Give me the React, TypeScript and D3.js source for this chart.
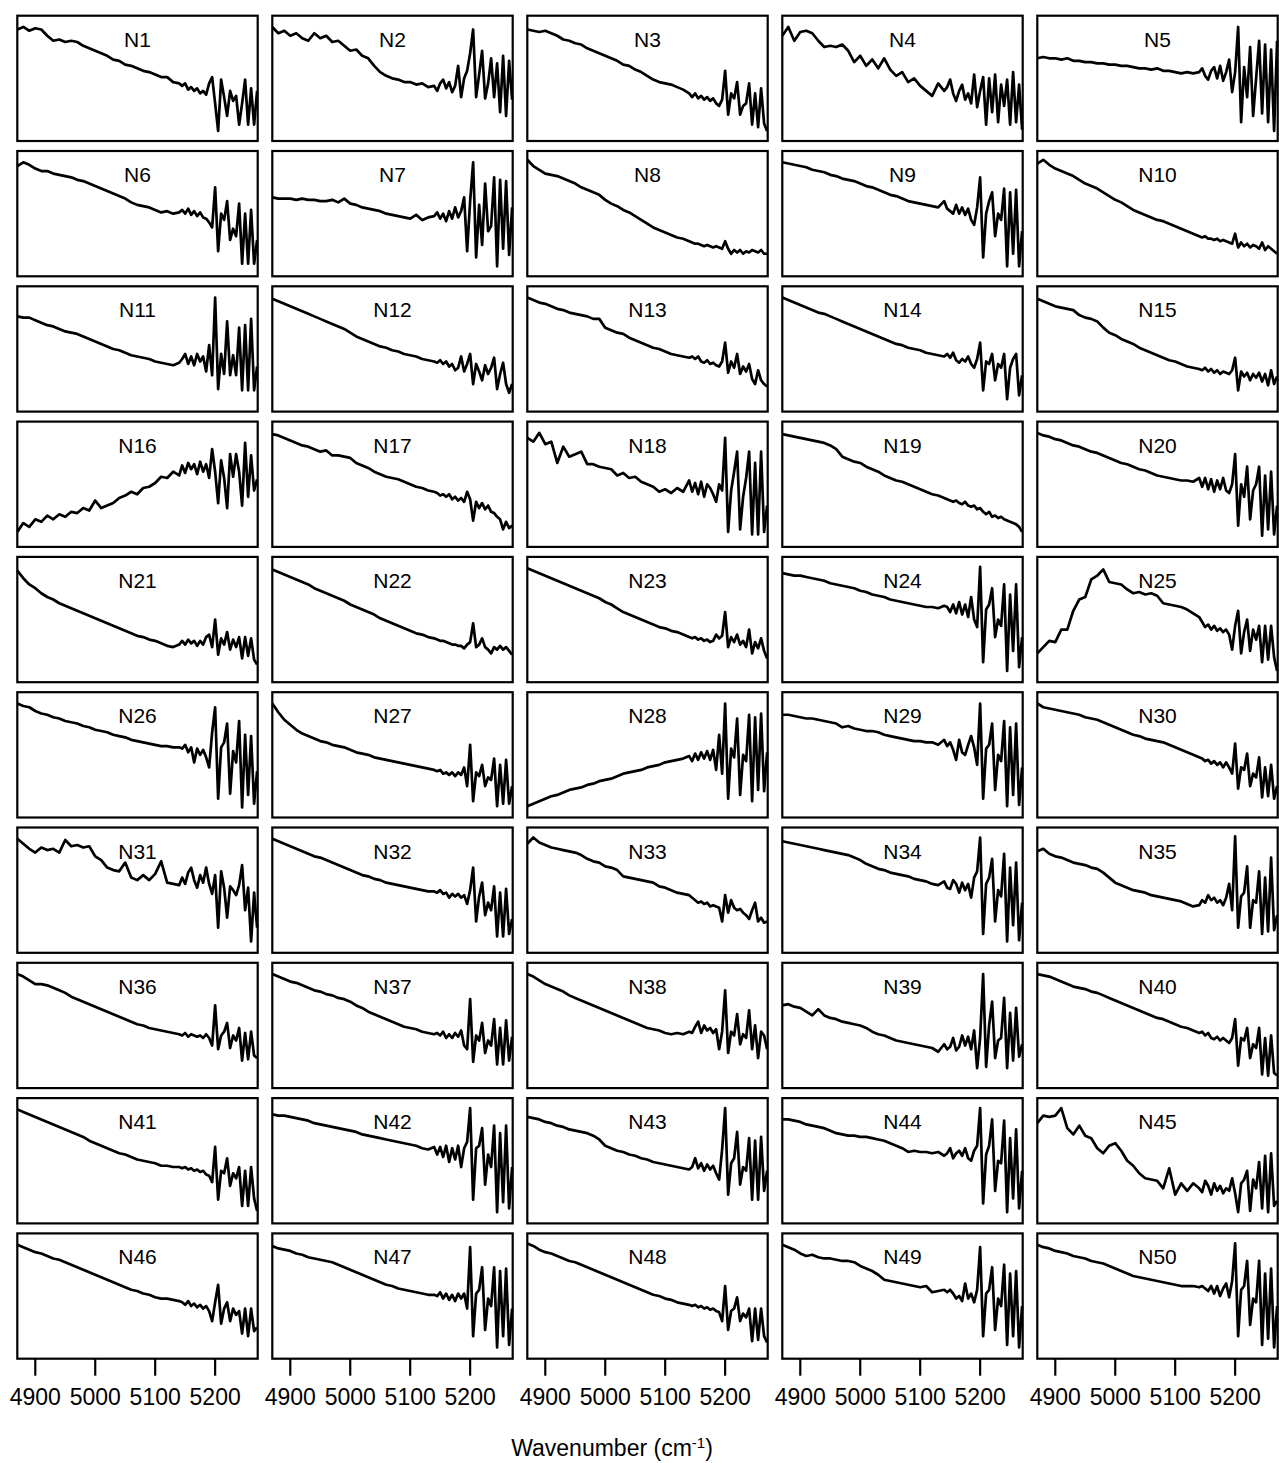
import React from "react";
import * as d3 from "d3";

// wavenumber grid (cm-1), shared by every spectrum
const WAVENUMBER = [4870, 4880, 4890, 4900, 4910, 4920, 4930, 4940, 4950, 4960, 4970, 4980, 4990, 5000, 5010, 5020, 5030, 5040, 5050, 5060, 5070, 5080, 5090, 5100, 5110, 5120, 5130, 5140,
  5145, 5150, 5155, 5160, 5165, 5170, 5175, 5180, 5185, 5190, 5195, 5200, 5205, 5210, 5215, 5220, 5225, 5230, 5235, 5240, 5245, 5250, 5255, 5260, 5265, 5270];

const N1 = [89, 91, 88, 90, 89, 84, 80, 81, 79, 80, 79, 76, 74, 72, 70, 68, 65, 64, 61, 60, 58, 56, 55, 53, 51, 51, 47, 46, 44, 46, 41, 43, 40, 42, 38, 40, 37, 46, 51, 30, 8, 49, 35, 20, 40, 32, 36, 13, 30, 49, 13, 42, 13, 40];
const N2 = [91, 86, 88, 84, 86, 82, 80, 86, 82, 84, 79, 80, 76, 72, 73, 68, 66, 60, 55, 52, 50, 49, 47, 47, 45, 46, 43, 44, 40, 46, 49, 42, 47, 39, 44, 60, 35, 50, 56, 70, 89, 35, 53, 72, 34, 46, 66, 35, 62, 23, 68, 20, 64, 33];
const N3 = [89, 88, 87, 88, 86, 84, 81, 80, 78, 77, 74, 72, 70, 68, 66, 64, 61, 60, 57, 55, 52, 49, 47, 46, 45, 43, 41, 38, 35, 38, 34, 36, 33, 35, 32, 34, 30, 28, 33, 56, 21, 38, 34, 47, 21, 28, 30, 46, 13, 38, 11, 42, 14, 8];
const N4 = [84, 91, 80, 87, 88, 86, 80, 75, 76, 75, 77, 72, 63, 68, 60, 65, 58, 66, 57, 52, 55, 47, 50, 44, 40, 36, 46, 40, 43, 49, 38, 32, 40, 45, 33, 38, 30, 53, 27, 40, 51, 13, 50, 23, 53, 15, 45, 28, 49, 13, 55, 15, 45, 9];
const N5 = [66, 67, 66, 66, 65, 66, 64, 64, 63, 63, 62, 62, 61, 61, 60, 60, 59, 58, 58, 57, 58, 56, 56, 55, 54, 55, 54, 55, 58, 52, 49, 56, 59, 50, 60, 48, 55, 65, 39, 55, 91, 15, 59, 35, 75, 20, 50, 80, 22, 77, 15, 73, 8, 80];
const N6 = [88, 91, 89, 86, 84, 84, 82, 81, 80, 79, 77, 76, 74, 72, 70, 68, 66, 64, 62, 59, 57, 56, 55, 53, 51, 52, 50, 51, 53, 50, 54, 49, 52, 48, 51, 47, 46, 43, 39, 71, 20, 50, 45, 60, 29, 38, 32, 58, 10, 50, 10, 53, 10, 29];
const N7 = [63, 62, 62, 62, 61, 62, 61, 61, 60, 60, 61, 59, 62, 58, 57, 55, 54, 53, 52, 50, 49, 48, 47, 46, 49, 45, 47, 48, 51, 46, 50, 44, 52, 46, 55, 47, 52, 63, 20, 60, 91, 15, 57, 25, 74, 36, 40, 79, 8, 77, 22, 76, 17, 55];
const N8 = [93, 88, 85, 82, 81, 80, 78, 76, 74, 71, 69, 67, 65, 61, 58, 56, 53, 51, 48, 45, 42, 39, 37, 35, 33, 31, 30, 28, 27, 26, 26, 25, 24, 25, 24, 23, 24, 23, 22, 28, 22, 18, 21, 19, 21, 18, 20, 19, 21, 20, 19, 21, 18, 18];
const N9 = [91, 90, 89, 88, 87, 85, 84, 83, 81, 80, 78, 77, 76, 74, 72, 71, 69, 67, 65, 64, 62, 60, 59, 58, 57, 56, 55, 60, 54, 52, 50, 57, 50, 55, 49, 54, 45, 41, 55, 79, 15, 50, 60, 67, 32, 50, 45, 70, 8, 67, 18, 69, 8, 36];
const N10 = [90, 93, 89, 86, 84, 82, 80, 77, 74, 72, 70, 67, 64, 61, 59, 56, 53, 51, 49, 47, 45, 44, 42, 40, 38, 36, 34, 32, 31, 32, 30, 30, 29, 30, 28, 29, 28, 27, 26, 34, 23, 27, 24, 26, 23, 25, 24, 22, 27, 21, 24, 22, 20, 18];
const N11 = [76, 75, 75, 73, 71, 69, 68, 66, 64, 63, 62, 60, 58, 56, 54, 52, 50, 49, 47, 45, 44, 43, 42, 40, 39, 38, 37, 39, 42, 46, 38, 44, 37, 46, 40, 44, 32, 53, 29, 91, 18, 46, 30, 72, 29, 45, 29, 67, 17, 69, 17, 74, 17, 36];
const N12 = [90, 88, 86, 84, 82, 80, 78, 76, 74, 72, 70, 68, 66, 63, 60, 58, 56, 54, 52, 51, 49, 48, 46, 45, 44, 42, 41, 40, 39, 41, 38, 40, 36, 38, 33, 35, 44, 32, 38, 46, 22, 38, 32, 25, 37, 30, 35, 43, 18, 30, 39, 22, 15, 22];
const N13 = [91, 89, 87, 86, 84, 82, 81, 79, 78, 77, 76, 74, 74, 67, 65, 63, 62, 59, 57, 55, 53, 51, 50, 48, 46, 45, 44, 43, 44, 42, 44, 40, 39, 41, 38, 39, 37, 36, 40, 55, 31, 40, 35, 46, 30, 36, 32, 38, 26, 22, 33, 25, 22, 20];
const N14 = [91, 89, 87, 85, 83, 81, 79, 78, 76, 74, 72, 70, 68, 66, 64, 62, 60, 58, 56, 54, 53, 51, 50, 49, 47, 46, 45, 44, 46, 43, 47, 41, 39, 42, 40, 44, 38, 35, 42, 55, 17, 40, 38, 46, 25, 38, 35, 46, 10, 35, 42, 46, 13, 29];
const N15 = [90, 88, 86, 84, 83, 82, 81, 77, 75, 74, 72, 67, 63, 61, 58, 56, 54, 51, 49, 47, 45, 43, 41, 40, 38, 36, 35, 34, 33, 35, 32, 34, 31, 33, 30, 32, 31, 30, 33, 43, 17, 32, 28, 31, 25, 30, 27, 31, 24, 30, 21, 33, 22, 28];
const N16 = [12, 19, 16, 22, 20, 25, 22, 26, 24, 28, 27, 31, 29, 37, 31, 33, 35, 39, 41, 44, 42, 47, 48, 51, 56, 55, 60, 57, 65, 59, 67, 62, 66, 58, 68, 60, 66, 55, 78, 60, 35, 69, 55, 31, 74, 56, 74, 60, 33, 83, 40, 73, 45, 54];
const N17 = [90, 89, 87, 85, 83, 81, 80, 78, 76, 77, 73, 73, 72, 71, 67, 65, 63, 60, 58, 56, 55, 54, 52, 50, 48, 47, 45, 44, 43, 41, 42, 40, 42, 38, 40, 37, 39, 36, 44, 38, 21, 36, 31, 35, 30, 33, 28, 27, 24, 22, 14, 20, 15, 17];
const N18 = [87, 84, 91, 82, 84, 67, 80, 72, 74, 76, 66, 66, 64, 63, 62, 57, 59, 55, 56, 52, 50, 48, 44, 46, 43, 47, 44, 53, 44, 51, 42, 52, 40, 50, 47, 42, 36, 50, 45, 87, 12, 45, 60, 76, 14, 40, 55, 76, 10, 67, 10, 76, 12, 33];
const N19 = [90, 89, 88, 87, 86, 85, 84, 83, 81, 78, 72, 70, 68, 67, 64, 62, 60, 57, 55, 53, 52, 50, 48, 46, 44, 42, 41, 39, 38, 37, 36, 37, 35, 34, 36, 33, 32, 33, 30, 31, 28, 26, 28, 24, 25, 23, 24, 22, 21, 20, 19, 18, 16, 12];
const N20 = [91, 89, 88, 86, 85, 83, 81, 80, 78, 76, 75, 73, 71, 69, 67, 66, 64, 62, 61, 59, 57, 56, 55, 54, 53, 53, 52, 55, 48, 55, 46, 54, 44, 53, 46, 55, 45, 43, 50, 74, 17, 50, 40, 64, 22, 45, 50, 64, 9, 57, 14, 60, 10, 33];
const N21 = [89, 83, 78, 75, 71, 68, 66, 63, 61, 59, 57, 55, 53, 51, 49, 47, 45, 43, 41, 39, 37, 36, 34, 33, 31, 29, 28, 30, 33, 30, 34, 31, 33, 29, 33, 30, 36, 38, 28, 50, 22, 35, 30, 40, 26, 34, 28, 36, 19, 36, 21, 35, 18, 14];
const N22 = [90, 88, 86, 84, 82, 80, 78, 75, 73, 71, 69, 67, 65, 62, 60, 58, 56, 54, 51, 49, 47, 45, 43, 41, 39, 38, 36, 35, 34, 33, 33, 32, 31, 30, 30, 29, 29, 27, 30, 32, 47, 28, 30, 35, 28, 26, 23, 28, 26, 29, 26, 28, 25, 22];
const N23 = [91, 89, 87, 85, 83, 81, 79, 77, 75, 73, 71, 69, 67, 64, 62, 59, 56, 54, 52, 50, 48, 46, 44, 43, 41, 40, 38, 36, 35, 36, 34, 35, 33, 34, 32, 33, 38, 35, 37, 56, 28, 36, 32, 38, 30, 33, 28, 42, 23, 32, 27, 35, 25, 19];
const N24 = [87, 86, 85, 85, 84, 83, 82, 81, 79, 78, 77, 76, 75, 73, 72, 70, 69, 68, 66, 65, 64, 63, 62, 61, 60, 60, 59, 61, 60, 56, 62, 55, 64, 54, 62, 52, 68, 50, 44, 92, 16, 58, 62, 75, 36, 50, 45, 78, 9, 70, 25, 78, 12, 36];
const N25 = [23, 28, 33, 32, 42, 42, 57, 66, 68, 82, 85, 90, 80, 79, 78, 74, 71, 72, 70, 71, 69, 63, 62, 61, 60, 58, 55, 52, 48, 44, 46, 42, 45, 41, 43, 40, 42, 38, 26, 45, 57, 23, 40, 50, 25, 42, 34, 45, 16, 45, 18, 45, 20, 9];
const N26 = [91, 89, 88, 85, 83, 82, 80, 79, 77, 76, 75, 73, 72, 70, 69, 68, 66, 65, 64, 62, 61, 60, 59, 58, 57, 57, 56, 56, 55, 58, 52, 56, 44, 55, 50, 54, 48, 40, 68, 88, 15, 56, 60, 75, 19, 53, 44, 77, 8, 66, 18, 65, 11, 37];
const N27 = [91, 84, 78, 74, 70, 67, 65, 63, 61, 60, 58, 57, 56, 54, 52, 51, 50, 48, 47, 46, 45, 44, 43, 42, 41, 40, 39, 38, 37, 38, 35, 36, 34, 36, 33, 36, 34, 40, 25, 58, 13, 36, 33, 42, 25, 32, 30, 47, 9, 42, 11, 46, 11, 25];
const N28 = [9, 11, 13, 15, 17, 18, 20, 22, 23, 24, 26, 27, 29, 30, 31, 33, 35, 36, 37, 38, 40, 41, 42, 44, 45, 46, 47, 49, 45, 51, 46, 52, 47, 53, 46, 54, 38, 66, 35, 91, 15, 55, 48, 79, 18, 50, 45, 82, 13, 80, 22, 83, 21, 52];
const N29 = [82, 82, 81, 80, 79, 79, 78, 77, 76, 75, 72, 73, 71, 70, 69, 69, 68, 66, 65, 64, 63, 62, 61, 61, 60, 60, 58, 62, 57, 60, 54, 46, 62, 52, 50, 58, 65, 56, 42, 91, 15, 55, 58, 75, 22, 50, 45, 77, 9, 72, 18, 75, 10, 40];
const N30 = [91, 88, 87, 86, 85, 84, 83, 82, 80, 79, 78, 76, 74, 72, 70, 68, 66, 65, 63, 62, 61, 60, 58, 56, 54, 52, 50, 48, 47, 45, 46, 43, 45, 42, 44, 40, 44, 40, 35, 59, 23, 40, 38, 51, 25, 35, 32, 48, 16, 40, 17, 42, 15, 25];
const N31 = [91, 87, 83, 80, 84, 82, 83, 80, 90, 85, 86, 84, 85, 77, 74, 68, 66, 65, 72, 60, 58, 62, 58, 63, 73, 56, 55, 54, 60, 55, 64, 68, 58, 52, 62, 56, 68, 55, 47, 62, 20, 65, 52, 28, 53, 50, 46, 54, 70, 34, 52, 9, 48, 20];
const N32 = [91, 89, 87, 85, 83, 81, 79, 77, 76, 74, 72, 70, 68, 66, 64, 62, 61, 59, 58, 56, 55, 54, 53, 52, 51, 50, 49, 49, 48, 50, 47, 48, 44, 47, 45, 47, 44, 46, 39, 50, 68, 25, 45, 56, 30, 40, 34, 53, 13, 48, 13, 51, 15, 27];
const N33 = [87, 92, 88, 86, 84, 83, 82, 81, 80, 78, 75, 73, 72, 69, 68, 66, 61, 60, 59, 58, 57, 56, 53, 52, 50, 48, 47, 46, 44, 42, 40, 41, 39, 40, 37, 38, 37, 36, 25, 46, 32, 42, 36, 34, 35, 32, 30, 27, 34, 40, 25, 28, 24, 25];
const N34 = [89, 88, 87, 86, 85, 84, 83, 82, 81, 80, 79, 78, 76, 74, 71, 69, 67, 66, 64, 63, 62, 61, 59, 58, 57, 55, 54, 57, 52, 51, 58, 55, 48, 56, 50, 55, 44, 60, 65, 92, 15, 55, 60, 75, 25, 50, 45, 79, 9, 68, 22, 72, 10, 40];
const N35 = [81, 83, 79, 77, 76, 74, 72, 71, 70, 68, 67, 64, 60, 56, 54, 52, 50, 49, 48, 46, 45, 44, 43, 42, 41, 39, 37, 38, 42, 40, 46, 42, 44, 40, 42, 38, 44, 55, 34, 93, 20, 45, 48, 69, 20, 42, 40, 65, 15, 60, 17, 76, 18, 30];
const N36 = [91, 89, 86, 83, 83, 82, 80, 78, 76, 73, 71, 69, 67, 65, 63, 61, 59, 57, 55, 53, 51, 50, 48, 47, 46, 45, 44, 43, 42, 44, 41, 43, 42, 41, 42, 40, 43, 40, 34, 66, 31, 42, 45, 52, 32, 42, 38, 48, 22, 44, 23, 45, 26, 24];
const N37 = [91, 89, 87, 85, 84, 82, 80, 78, 77, 75, 74, 72, 71, 69, 66, 64, 61, 59, 57, 55, 53, 51, 49, 48, 47, 45, 44, 43, 44, 42, 45, 40, 43, 40, 44, 41, 46, 34, 31, 71, 21, 42, 38, 52, 28, 38, 34, 55, 19, 48, 19, 54, 22, 41];
const N38 = [91, 89, 86, 83, 81, 79, 77, 74, 72, 70, 68, 66, 64, 62, 60, 58, 56, 54, 52, 50, 48, 47, 46, 44, 43, 44, 43, 45, 44, 49, 53, 44, 50, 46, 48, 44, 47, 31, 45, 78, 28, 45, 42, 59, 35, 43, 40, 62, 31, 50, 24, 45, 42, 31];
const N39 = [66, 67, 65, 64, 61, 58, 63, 58, 56, 55, 53, 52, 51, 50, 48, 45, 43, 42, 40, 38, 37, 36, 35, 34, 33, 32, 29, 35, 31, 33, 40, 30, 33, 42, 34, 41, 31, 46, 16, 40, 91, 17, 50, 69, 24, 38, 40, 72, 16, 60, 22, 64, 25, 35];
const N40 = [91, 90, 89, 87, 85, 83, 81, 80, 79, 77, 76, 74, 72, 70, 68, 66, 64, 62, 60, 58, 56, 55, 53, 51, 49, 48, 46, 44, 45, 42, 44, 40, 39, 41, 38, 40, 38, 36, 40, 55, 18, 40, 38, 48, 24, 35, 32, 48, 11, 40, 10, 42, 12, 10];
const N41 = [91, 89, 87, 85, 83, 81, 79, 77, 75, 73, 71, 69, 66, 64, 62, 60, 58, 56, 55, 53, 51, 50, 49, 48, 46, 46, 45, 45, 44, 45, 43, 44, 42, 43, 41, 42, 39, 38, 33, 61, 19, 42, 40, 52, 30, 40, 36, 45, 14, 42, 14, 45, 20, 10];
const N42 = [87, 86, 86, 85, 84, 83, 82, 80, 79, 78, 77, 76, 75, 74, 73, 71, 70, 69, 68, 67, 66, 65, 64, 63, 62, 60, 59, 61, 55, 61, 53, 62, 49, 60, 51, 62, 45, 60, 65, 92, 19, 60, 62, 76, 31, 55, 45, 78, 9, 72, 17, 78, 12, 45];
const N43 = [85, 84, 83, 81, 80, 78, 77, 75, 74, 73, 72, 70, 67, 62, 60, 58, 57, 55, 54, 52, 51, 49, 48, 47, 46, 45, 44, 43, 45, 52, 44, 48, 42, 47, 43, 46, 40, 35, 59, 92, 23, 48, 52, 73, 31, 45, 42, 68, 19, 66, 19, 69, 26, 42];
const N44 = [83, 83, 82, 81, 79, 78, 77, 76, 74, 72, 71, 70, 70, 69, 69, 68, 67, 66, 64, 62, 60, 57, 58, 57, 57, 56, 57, 54, 56, 60, 52, 56, 58, 54, 60, 52, 50, 58, 62, 92, 16, 55, 62, 83, 26, 50, 48, 82, 9, 68, 20, 75, 12, 42];
const N45 = [80, 86, 85, 86, 92, 76, 71, 78, 70, 68, 60, 56, 62, 64, 58, 50, 46, 40, 36, 35, 34, 28, 44, 23, 32, 26, 32, 28, 25, 34, 30, 23, 32, 26, 30, 24, 28, 26, 36, 24, 9, 32, 35, 42, 10, 35, 28, 49, 12, 54, 9, 56, 14, 18];
const N46 = [91, 89, 87, 85, 84, 82, 80, 79, 77, 75, 73, 71, 69, 67, 65, 63, 61, 59, 57, 55, 54, 52, 51, 49, 48, 48, 47, 46, 45, 43, 46, 42, 44, 41, 43, 40, 42, 38, 30, 45, 59, 28, 40, 45, 30, 40, 35, 38, 20, 40, 18, 40, 22, 25];
const N47 = [90, 88, 87, 86, 84, 83, 81, 80, 79, 78, 77, 75, 73, 71, 69, 67, 65, 63, 61, 59, 58, 56, 55, 54, 53, 52, 51, 51, 50, 53, 48, 52, 47, 51, 46, 52, 48, 52, 40, 89, 18, 52, 55, 73, 23, 48, 42, 73, 9, 70, 18, 72, 11, 40];
const N48 = [92, 90, 87, 85, 84, 82, 80, 78, 77, 75, 73, 71, 69, 67, 65, 63, 61, 59, 57, 55, 53, 51, 50, 48, 47, 45, 44, 43, 42, 43, 41, 42, 40, 41, 39, 40, 38, 37, 30, 58, 23, 38, 40, 49, 30, 36, 33, 40, 14, 40, 15, 40, 18, 13];
const N49 = [91, 89, 87, 84, 82, 83, 81, 80, 80, 79, 78, 78, 77, 74, 72, 70, 67, 63, 62, 61, 60, 59, 58, 57, 58, 53, 54, 55, 53, 55, 52, 48, 50, 46, 60, 48, 52, 45, 55, 89, 18, 52, 55, 73, 23, 48, 42, 75, 11, 68, 18, 70, 9, 42];
const N50 = [91, 89, 88, 86, 85, 84, 82, 81, 80, 78, 77, 76, 74, 72, 70, 68, 66, 65, 64, 63, 62, 61, 60, 59, 58, 58, 58, 57, 58, 56, 54, 58, 52, 58, 50, 56, 60, 49, 62, 92, 18, 55, 58, 78, 27, 48, 45, 78, 11, 68, 16, 72, 9, 42];

const SPECTRA = [N1, N2, N3, N4, N5, N6, N7, N8, N9, N10, N11, N12, N13, N14, N15, N16, N17, N18, N19, N20,
  N21, N22, N23, N24, N25, N26, N27, N28, N29, N30, N31, N32, N33, N34, N35, N36, N37, N38, N39, N40,
  N41, N42, N43, N44, N45, N46, N47, N48, N49, N50];
const SAMPLE_NAMES = SPECTRA.map((_, i) => `N${i + 1}`);
const X_TICKS = [4900, 5000, 5100, 5200];

const WIDTH = 1279;
const HEIGHT = 1463;
const NCOL = 5;
const NROW = 10;
const PANEL_W = 240.4;
const PANEL_H = 125.3;
const LEFT0 = 17.3;
const TOP0 = 15.7;
const STEP_X = 255;
const STEP_Y = 135.3;
const FONT = "'Liberation Sans', Arial, Helvetica, sans-serif";

export default function App() {
  const x = d3.scaleLinear().domain([4870, 5271]).range([0, PANEL_W]);
  const y = d3.scaleLinear().domain([0, 100]).range([PANEL_H, 0]);
  const line = d3
    .line<number>()
    .x((_, i) => x(WAVENUMBER[i]))
    .y((d) => y(d));

  return (
    <svg
      width={WIDTH}
      height={HEIGHT}
      style={{ position: "absolute", left: 0, top: 0, background: "#fff" }}
      fontFamily={FONT}
    >
      {SPECTRA.map((vals, i) => {
        const col = i % NCOL;
        const row = Math.floor(i / NCOL);
        const tx = LEFT0 + col * STEP_X;
        const ty = TOP0 + row * STEP_Y;
        return (
          <g key={SAMPLE_NAMES[i]} transform={`translate(${tx},${ty})`}>
            <path
              d={line(vals) || ""}
              fill="none"
              stroke="#000"
              strokeWidth={2.7}
              strokeLinejoin="round"
            />
            <rect width={PANEL_W} height={PANEL_H} fill="none" stroke="#000" strokeWidth={2.2} />
            <text x={PANEL_W / 2} y={31} textAnchor="middle" fontSize={21} fill="#000">
              {SAMPLE_NAMES[i]}
            </text>
            {row === NROW - 1 &&
              X_TICKS.map((t) => (
                <g key={t} transform={`translate(${x(t)},${PANEL_H})`}>
                  <line y1={0} y2={17} stroke="#000" strokeWidth={2.2} />
                  <text y={46} textAnchor="middle" fontSize={23} fill="#000">
                    {t}
                  </text>
                </g>
              ))}
          </g>
        );
      })}
      <text x={612} y={1456} textAnchor="middle" fontSize={23} fill="#000">
        Wavenumber (cm
        <tspan baselineShift="super" fontSize={15}>
          -1
        </tspan>
        )
      </text>
    </svg>
  );
}
